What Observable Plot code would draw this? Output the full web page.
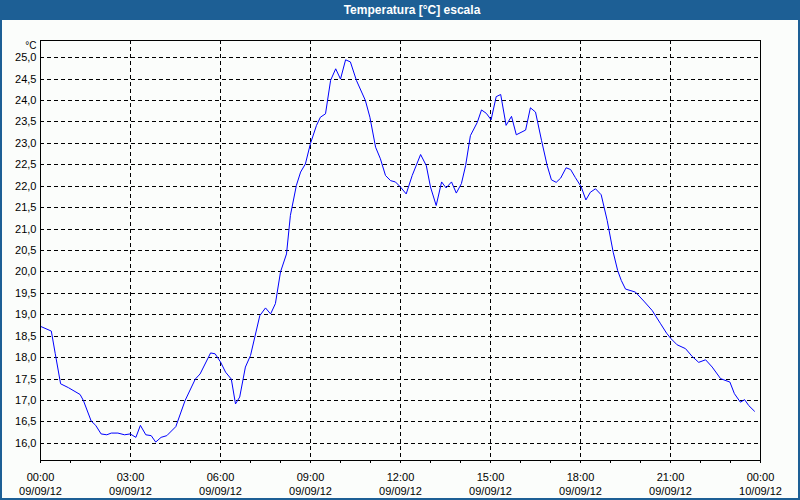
<!DOCTYPE html>
<html>
<head>
<meta charset="utf-8">
<script src="https://cdn.jsdelivr.net/npm/d3@7"></script>
<script src="https://cdn.jsdelivr.net/npm/@observablehq/plot@0.6"></script>
<style>
  html, body { margin: 0; padding: 0; background: #fbfdfb; }
  #wrap { position: relative; width: 800px; height: 500px; overflow: hidden; background: #fbfdfb; }
  #title { position: absolute; left: 0; top: 0; width: 800px; height: 20px; background: #1d5f95;
           color: #fff; font: bold 12px "Liberation Sans", Arial, sans-serif; line-height: 20px; text-align: center; }
  #title span { position: relative; left: 12px; }
  #chart { position: absolute; left: 0; top: 20px; }
  #border { position: absolute; left: 0; top: 0; width: 800px; height: 500px; box-sizing: border-box;
            border: 2px solid #1d5f95; border-top: none; pointer-events: none; }
</style>
</head>
<body>
<div id="wrap">
  <div id="title"><span>Temperatura [°C] escala</span></div>
  <div id="chart"></div>
  <div id="border"></div>
</div>
<script>
// Hours since 00:00 on 09/09/12
const hours = [
  0.00, 0.36, 0.49, 0.67, 0.93, 1.32, 1.43, 1.69, 1.84, 2.02, 2.21, 2.36, 2.58, 2.80, 2.99,
  3.18, 3.33, 3.51, 3.69, 3.84, 4.02, 4.21, 4.51, 4.82, 5.16, 5.32, 5.67, 5.82, 6.00, 6.17,
  6.36, 6.50, 6.64, 6.83, 7.00, 7.31, 7.50, 7.67, 7.83, 8.00, 8.20, 8.33, 8.53, 8.67, 8.83,
  9.00, 9.20, 9.33, 9.50, 9.67, 9.84, 10.00, 10.17, 10.33, 10.53, 10.83, 10.98, 11.17, 11.33,
  11.50, 11.67, 11.83, 12.00, 12.19, 12.39, 12.67, 12.86, 13.00, 13.19, 13.37, 13.52, 13.70,
  13.86, 14.03, 14.17, 14.33, 14.56, 14.70, 14.86, 15.02, 15.19, 15.34, 15.52, 15.70, 15.86,
  16.17, 16.33, 16.50, 16.70, 16.89, 17.03, 17.19, 17.34, 17.52, 17.67, 17.83, 18.02, 18.18,
  18.33, 18.50, 18.69, 18.89, 19.09, 19.24, 19.36, 19.50, 19.83, 20.11, 20.39, 20.67, 20.87,
  21.02, 21.22, 21.50, 21.72, 21.94, 22.17, 22.39, 22.67, 22.98, 23.13, 23.33, 23.47, 23.61, 23.80
];
const temps = [
  18.73, 18.62, 18.10, 17.39, 17.30, 17.14, 17.00, 16.52, 16.42, 16.22, 16.20, 16.24, 16.24, 16.20, 16.22,
  16.14, 16.42, 16.20, 16.18, 16.03, 16.14, 16.18, 16.39, 17.00, 17.50, 17.62, 18.11, 18.09, 17.90, 17.66,
  17.50, 16.92, 17.08, 17.78, 18.05, 18.98, 19.16, 19.02, 19.26, 20.00, 20.42, 21.32, 22.02, 22.33, 22.52,
  23.00, 23.42, 23.61, 23.69, 24.47, 24.74, 24.50, 24.95, 24.90, 24.47, 24.00, 23.61, 22.91, 22.64,
  22.25, 22.13, 22.10, 21.98, 21.82, 22.25, 22.74, 22.48, 21.98, 21.55, 22.10, 21.96, 22.10,
  21.84, 22.06, 22.48, 23.18, 23.49, 23.78, 23.70, 23.55, 24.09, 24.14, 23.42, 23.63, 23.20,
  23.31, 23.83, 23.73, 23.07, 22.48, 22.15, 22.09, 22.19, 22.43, 22.39, 22.20, 21.99, 21.68,
  21.86, 21.94, 21.80, 21.20, 20.46, 20.03, 19.80, 19.60, 19.53, 19.32, 19.10, 18.79, 18.57,
  18.44, 18.30, 18.21, 18.03, 17.89, 17.95, 17.78, 17.51, 17.43, 17.16, 16.96, 17.02, 16.88, 16.75
];
const yTicks = [16.0, 16.5, 17.0, 17.5, 18.0, 18.5, 19.0, 19.5, 20.0, 20.5, 21.0, 21.5, 22.0, 22.5, 23.0, 23.5, 24.0, 24.5, 25.0];
const xLabelHours = [0, 3, 6, 9, 12, 15, 18, 21, 24];
const xMinorHours = d3.range(0, 25);
const yUnit = "°C";

const t0 = Date.UTC(2012, 8, 9, 0, 0);
const toDate = h => new Date(t0 + h * 3600e3);
const data = hours.map((h, i) => ({time: toDate(h), temp: temps[i]}));
const pad = n => String(n).padStart(2, "0");
const fmt = d => `${pad(d.getUTCHours())}:${pad(d.getUTCMinutes())}\n${pad(d.getUTCDate())}/${pad(d.getUTCMonth() + 1)}/${String(d.getUTCFullYear()).slice(2)}`;

const font = "Liberation Sans, Arial, sans-serif";
const chart = Plot.plot({
  width: 800,
  height: 480,
  marginTop: 20,
  marginBottom: 40,
  marginLeft: 40,
  marginRight: 40,
  style: {background: "transparent", fontFamily: font, fontSize: "11px", color: "#000"},
  x: {type: "utc", domain: [toDate(0), toDate(24)]},
  y: {domain: [15.6, 25.4]},
  marks: [
    Plot.ruleY(yTicks, {stroke: "#000", strokeDasharray: "4,3", shapeRendering: "crispEdges"}),
    Plot.ruleX(xLabelHours.slice(1, -1).map(toDate), {stroke: "#000", strokeDasharray: "4,3", shapeRendering: "crispEdges"}),
    Plot.line(data, {x: "time", y: "temp", stroke: "#0000ff", strokeWidth: 1}),
    Plot.frame({stroke: "#000", shapeRendering: "crispEdges"}),
    Plot.axisY({ticks: yTicks, tickSize: 0, tickPadding: 4, tickFormat: d => d.toFixed(1).replace(".", ","), label: null, fill: "#000"}),
    Plot.axisX({ticks: xMinorHours.map(toDate), tickSize: 3, tickFormat: () => "", label: null, stroke: "#000", shapeRendering: "crispEdges"}),
    Plot.axisX({ticks: xLabelHours.map(toDate), tickSize: 0, tickPadding: 10, tickFormat: fmt, lineHeight: 1.3, label: null, fill: "#000"}),
    Plot.text([yUnit], {frameAnchor: "top-left", dx: -4, dy: 1, textAnchor: "end", fill: "#000", fontSize: 10})
  ]
});
document.getElementById("chart").appendChild(chart);
</script>
</body>
</html>
